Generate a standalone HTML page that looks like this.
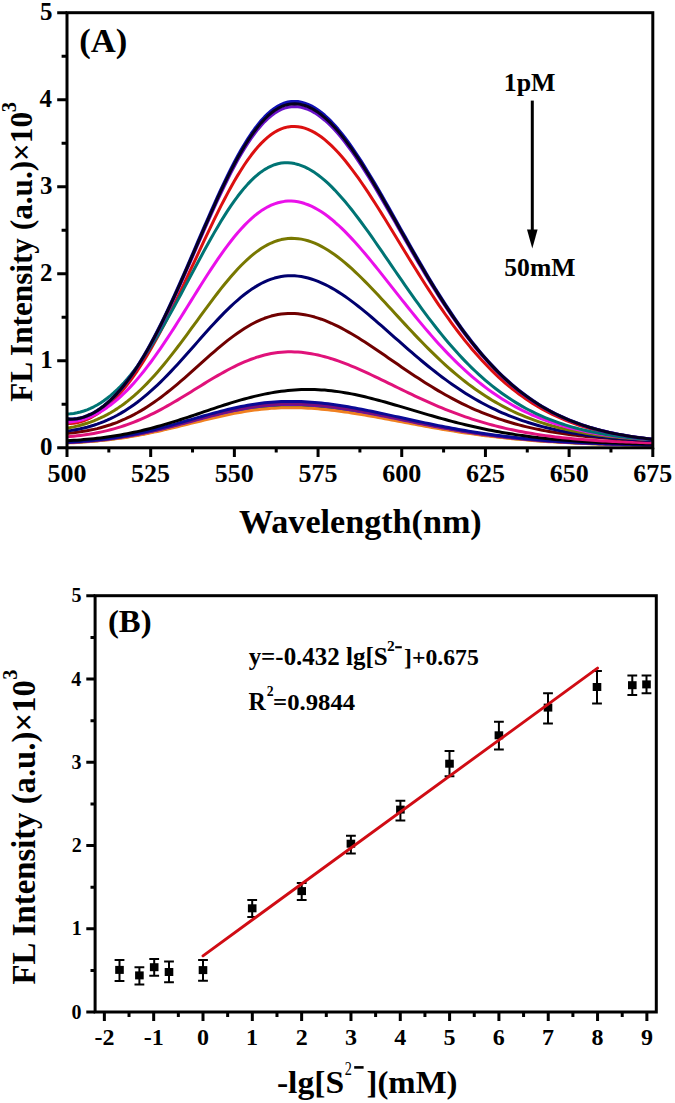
<!DOCTYPE html>
<html><head><meta charset="utf-8"><style>
html,body{margin:0;padding:0;background:#fff;}
body{width:675px;height:1103px;overflow:hidden;}
svg{display:block;font-family:"Liberation Serif",serif;}
</style></head><body>
<svg width="675" height="1103" viewBox="0 0 675 1103">
<rect width="675" height="1103" fill="#fff"/>
<clipPath id="ca"><rect x="67" y="12.7" width="585.8" height="435.1"/></clipPath>
<g clip-path="url(#ca)" fill="none" stroke-width="3" stroke-linejoin="round" stroke-linecap="round">
<polyline stroke="#10800a" points="67.00,442.78 70.35,442.62 73.69,442.45 77.04,442.25 80.39,442.04 83.74,441.81 87.08,441.56 90.43,441.29 93.78,440.99 97.13,440.68 100.47,440.34 103.82,439.98 107.17,439.59 110.52,439.18 113.86,438.74 117.21,438.28 120.56,437.80 123.91,437.28 127.25,436.74 130.60,436.18 133.95,435.59 137.30,434.98 140.64,434.34 143.99,433.67 147.34,432.99 150.69,432.28 154.03,431.54 157.38,430.79 160.73,430.02 164.08,429.23 167.42,428.43 170.77,427.61 174.12,426.78 177.47,425.94 180.81,425.09 184.16,424.23 187.51,423.36 190.85,422.50 194.20,421.63 197.55,420.77 200.90,419.91 204.24,419.06 207.59,418.21 210.94,417.38 214.29,416.57 217.63,415.76 220.98,414.98 224.33,414.22 227.68,413.48 231.02,412.77 234.37,412.09 237.72,411.43 241.07,410.81 244.41,410.22 247.76,409.67 251.11,409.15 254.46,408.67 257.80,408.23 261.15,407.83 264.50,407.47 267.85,407.15 271.19,406.88 274.54,406.65 277.89,406.46 281.24,406.32 284.58,406.22 287.93,406.17 291.28,406.16 294.63,406.18 297.97,406.25 301.32,406.35 304.67,406.49 308.01,406.66 311.36,406.86 314.71,407.10 318.06,407.37 321.40,407.67 324.75,408.00 328.10,408.36 331.45,408.75 334.79,409.16 338.14,409.60 341.49,410.06 344.84,410.55 348.18,411.05 351.53,411.58 354.88,412.12 358.23,412.68 361.57,413.26 364.92,413.85 368.27,414.45 371.62,415.06 374.96,415.69 378.31,416.32 381.66,416.96 385.01,417.61 388.35,418.26 391.70,418.91 395.05,419.57 398.40,420.23 401.74,420.89 405.09,421.55 408.44,422.20 411.79,422.86 415.13,423.51 418.48,424.15 421.83,424.79 425.17,425.42 428.52,426.05 431.87,426.67 435.22,427.28 438.56,427.89 441.91,428.48 445.26,429.06 448.61,429.64 451.95,430.20 455.30,430.75 458.65,431.29 462.00,431.82 465.34,432.34 468.69,432.85 472.04,433.34 475.39,433.82 478.73,434.29 482.08,434.75 485.43,435.19 488.78,435.63 492.12,436.05 495.47,436.45 498.82,436.85 502.17,437.23 505.51,437.60 508.86,437.96 512.21,438.31 515.56,438.64 518.90,438.97 522.25,439.28 525.60,439.58 528.95,439.87 532.29,440.15 535.64,440.42 538.99,440.68 542.33,440.93 545.68,441.17 549.03,441.40 552.38,441.62 555.72,441.83 559.07,442.04 562.42,442.23 565.77,442.42 569.11,442.60 572.46,442.77 575.81,442.93 579.16,443.09 582.50,443.24 585.85,443.38 589.20,443.51 592.55,443.64 595.89,443.77 599.24,443.89 602.59,444.00 605.94,444.11 609.28,444.21 612.63,444.31 615.98,444.40 619.33,444.49 622.67,444.57 626.02,444.65 629.37,444.72 632.72,444.80 636.06,444.86 639.41,444.93 642.76,444.99 646.11,445.05 649.45,445.10 652.80,445.16"/>
<polyline stroke="#f08020" points="67.00,442.97 70.35,442.81 73.69,442.64 77.04,442.45 80.39,442.25 83.74,442.03 87.08,441.79 90.43,441.52 93.78,441.24 97.13,440.94 100.47,440.61 103.82,440.26 107.17,439.89 110.52,439.49 113.86,439.07 117.21,438.63 120.56,438.16 123.91,437.67 127.25,437.15 130.60,436.60 133.95,436.04 137.30,435.44 140.64,434.83 143.99,434.19 147.34,433.53 150.69,432.84 154.03,432.14 157.38,431.41 160.73,430.67 164.08,429.91 167.42,429.14 170.77,428.35 174.12,427.55 177.47,426.73 180.81,425.91 184.16,425.09 187.51,424.26 190.85,423.42 194.20,422.59 197.55,421.75 200.90,420.93 204.24,420.11 207.59,419.29 210.94,418.49 214.29,417.70 217.63,416.93 220.98,416.18 224.33,415.45 227.68,414.74 231.02,414.05 234.37,413.39 237.72,412.76 241.07,412.16 244.41,411.59 247.76,411.06 251.11,410.56 254.46,410.10 257.80,409.67 261.15,409.29 264.50,408.94 267.85,408.64 271.19,408.37 274.54,408.15 277.89,407.97 281.24,407.83 284.58,407.74 287.93,407.68 291.28,407.67 294.63,407.70 297.97,407.76 301.32,407.86 304.67,407.99 308.01,408.16 311.36,408.36 314.71,408.59 318.06,408.85 321.40,409.14 324.75,409.45 328.10,409.80 331.45,410.17 334.79,410.57 338.14,410.99 341.49,411.44 344.84,411.91 348.18,412.39 351.53,412.90 354.88,413.42 358.23,413.96 361.57,414.52 364.92,415.09 368.27,415.67 371.62,416.26 374.96,416.86 378.31,417.47 381.66,418.09 385.01,418.71 388.35,419.34 391.70,419.97 395.05,420.60 398.40,421.23 401.74,421.87 405.09,422.50 408.44,423.14 411.79,423.76 415.13,424.39 418.48,425.01 421.83,425.63 425.17,426.24 428.52,426.85 431.87,427.44 435.22,428.03 438.56,428.61 441.91,429.18 445.26,429.75 448.61,430.30 451.95,430.84 455.30,431.38 458.65,431.90 462.00,432.41 465.34,432.91 468.69,433.39 472.04,433.87 475.39,434.33 478.73,434.79 482.08,435.23 485.43,435.65 488.78,436.07 492.12,436.48 495.47,436.87 498.82,437.25 502.17,437.62 505.51,437.97 508.86,438.32 512.21,438.65 515.56,438.98 518.90,439.29 522.25,439.59 525.60,439.88 528.95,440.16 532.29,440.43 535.64,440.69 538.99,440.94 542.33,441.18 545.68,441.41 549.03,441.63 552.38,441.85 555.72,442.05 559.07,442.25 562.42,442.43 565.77,442.61 569.11,442.79 572.46,442.95 575.81,443.11 579.16,443.26 582.50,443.40 585.85,443.54 589.20,443.67 592.55,443.80 595.89,443.92 599.24,444.03 602.59,444.14 605.94,444.24 609.28,444.34 612.63,444.43 615.98,444.52 619.33,444.61 622.67,444.69 626.02,444.76 629.37,444.84 632.72,444.91 636.06,444.97 639.41,445.03 642.76,445.09 646.11,445.15 649.45,445.20 652.80,445.25"/>
<polyline stroke="#6a10b0" points="67.00,442.57 70.35,442.41 73.69,442.22 77.04,442.02 80.39,441.80 83.74,441.56 87.08,441.30 90.43,441.01 93.78,440.71 97.13,440.38 100.47,440.03 103.82,439.65 107.17,439.25 110.52,438.82 113.86,438.37 117.21,437.89 120.56,437.38 123.91,436.84 127.25,436.28 130.60,435.70 133.95,435.08 137.30,434.44 140.64,433.78 143.99,433.08 147.34,432.37 150.69,431.63 154.03,430.87 157.38,430.08 160.73,429.28 164.08,428.46 167.42,427.62 170.77,426.77 174.12,425.90 177.47,425.03 180.81,424.14 184.16,423.25 187.51,422.35 190.85,421.44 194.20,420.54 197.55,419.64 200.90,418.75 204.24,417.86 207.59,416.98 210.94,416.12 214.29,415.26 217.63,414.43 220.98,413.62 224.33,412.82 227.68,412.05 231.02,411.31 234.37,410.60 237.72,409.92 241.07,409.27 244.41,408.66 247.76,408.08 251.11,407.54 254.46,407.04 257.80,406.58 261.15,406.16 264.50,405.79 267.85,405.46 271.19,405.17 274.54,404.93 277.89,404.74 281.24,404.59 284.58,404.49 287.93,404.43 291.28,404.42 294.63,404.45 297.97,404.52 301.32,404.62 304.67,404.77 308.01,404.94 311.36,405.16 314.71,405.41 318.06,405.69 321.40,406.00 324.75,406.34 328.10,406.72 331.45,407.12 334.79,407.55 338.14,408.01 341.49,408.49 344.84,409.00 348.18,409.52 351.53,410.07 354.88,410.64 358.23,411.22 361.57,411.82 364.92,412.43 368.27,413.06 371.62,413.70 374.96,414.35 378.31,415.01 381.66,415.68 385.01,416.35 388.35,417.03 391.70,417.71 395.05,418.39 398.40,419.08 401.74,419.77 405.09,420.45 408.44,421.14 411.79,421.82 415.13,422.49 418.48,423.17 421.83,423.83 425.17,424.49 428.52,425.15 431.87,425.79 435.22,426.43 438.56,427.06 441.91,427.68 445.26,428.28 448.61,428.88 451.95,429.47 455.30,430.04 458.65,430.61 462.00,431.16 465.34,431.70 468.69,432.23 472.04,432.74 475.39,433.24 478.73,433.73 482.08,434.21 485.43,434.67 488.78,435.12 492.12,435.56 495.47,435.98 498.82,436.39 502.17,436.79 505.51,437.18 508.86,437.55 512.21,437.91 515.56,438.26 518.90,438.60 522.25,438.93 525.60,439.24 528.95,439.54 532.29,439.83 535.64,440.11 538.99,440.38 542.33,440.64 545.68,440.89 549.03,441.13 552.38,441.36 555.72,441.58 559.07,441.80 562.42,442.00 565.77,442.19 569.11,442.38 572.46,442.56 575.81,442.73 579.16,442.89 582.50,443.05 585.85,443.19 589.20,443.34 592.55,443.47 595.89,443.60 599.24,443.72 602.59,443.84 605.94,443.95 609.28,444.06 612.63,444.16 615.98,444.26 619.33,444.35 622.67,444.44 626.02,444.52 629.37,444.60 632.72,444.67 636.06,444.74 639.41,444.81 642.76,444.87 646.11,444.93 649.45,444.99 652.80,445.05"/>
<polyline stroke="#7a107a" points="67.00,442.47 70.35,442.30 73.69,442.11 77.04,441.91 80.39,441.68 83.74,441.43 87.08,441.17 90.43,440.88 93.78,440.57 97.13,440.23 100.47,439.87 103.82,439.49 107.17,439.08 110.52,438.64 113.86,438.18 117.21,437.69 120.56,437.17 123.91,436.63 127.25,436.05 130.60,435.45 133.95,434.83 137.30,434.17 140.64,433.49 143.99,432.79 147.34,432.06 150.69,431.31 154.03,430.53 157.38,429.73 160.73,428.91 164.08,428.07 167.42,427.22 170.77,426.35 174.12,425.47 177.47,424.57 180.81,423.67 184.16,422.75 187.51,421.84 190.85,420.92 194.20,420.00 197.55,419.08 200.90,418.17 204.24,417.26 207.59,416.37 210.94,415.48 214.29,414.61 217.63,413.76 220.98,412.93 224.33,412.12 227.68,411.34 231.02,410.58 234.37,409.86 237.72,409.16 241.07,408.50 244.41,407.87 247.76,407.28 251.11,406.73 254.46,406.22 257.80,405.76 261.15,405.33 264.50,404.95 267.85,404.61 271.19,404.32 274.54,404.08 277.89,403.88 281.24,403.73 284.58,403.62 287.93,403.56 291.28,403.55 294.63,403.58 297.97,403.65 301.32,403.76 304.67,403.90 308.01,404.09 311.36,404.30 314.71,404.56 318.06,404.84 321.40,405.16 324.75,405.52 328.10,405.90 331.45,406.31 334.79,406.75 338.14,407.21 341.49,407.70 344.84,408.22 348.18,408.76 351.53,409.31 354.88,409.89 358.23,410.49 361.57,411.10 364.92,411.73 368.27,412.37 371.62,413.02 374.96,413.68 378.31,414.35 381.66,415.03 385.01,415.72 388.35,416.41 391.70,417.11 395.05,417.81 398.40,418.51 401.74,419.21 405.09,419.90 408.44,420.60 411.79,421.30 415.13,421.99 418.48,422.67 421.83,423.35 425.17,424.03 428.52,424.69 431.87,425.35 435.22,426.00 438.56,426.64 441.91,427.27 445.26,427.89 448.61,428.50 451.95,429.10 455.30,429.69 458.65,430.26 462.00,430.83 465.34,431.38 468.69,431.91 472.04,432.44 475.39,432.95 478.73,433.45 482.08,433.93 485.43,434.41 488.78,434.87 492.12,435.31 495.47,435.74 498.82,436.16 502.17,436.57 505.51,436.97 508.86,437.35 512.21,437.72 515.56,438.07 518.90,438.42 522.25,438.75 525.60,439.07 528.95,439.38 532.29,439.67 535.64,439.96 538.99,440.24 542.33,440.50 545.68,440.76 549.03,441.00 552.38,441.23 555.72,441.46 559.07,441.68 562.42,441.88 565.77,442.08 569.11,442.27 572.46,442.45 575.81,442.63 579.16,442.79 582.50,442.95 585.85,443.10 589.20,443.25 592.55,443.38 595.89,443.52 599.24,443.64 602.59,443.76 605.94,443.88 609.28,443.98 612.63,444.09 615.98,444.19 619.33,444.28 622.67,444.37 626.02,444.45 629.37,444.53 632.72,444.61 636.06,444.68 639.41,444.75 642.76,444.82 646.11,444.88 649.45,444.94 652.80,444.99"/>
<polyline stroke="#0a0a96" points="67.00,442.21 70.35,442.03 73.69,441.83 77.04,441.62 80.39,441.38 83.74,441.12 87.08,440.84 90.43,440.54 93.78,440.21 97.13,439.86 100.47,439.48 103.82,439.08 107.17,438.65 110.52,438.19 113.86,437.71 117.21,437.19 120.56,436.65 123.91,436.08 127.25,435.48 130.60,434.85 133.95,434.19 137.30,433.51 140.64,432.79 143.99,432.05 147.34,431.29 150.69,430.50 154.03,429.68 157.38,428.84 160.73,427.99 164.08,427.11 167.42,426.21 170.77,425.30 174.12,424.37 177.47,423.43 180.81,422.48 184.16,421.53 187.51,420.56 190.85,419.60 194.20,418.63 197.55,417.67 200.90,416.71 204.24,415.76 207.59,414.82 210.94,413.90 214.29,412.99 217.63,412.09 220.98,411.22 224.33,410.37 227.68,409.55 231.02,408.76 234.37,408.00 237.72,407.27 241.07,406.57 244.41,405.92 247.76,405.30 251.11,404.72 254.46,404.19 257.80,403.69 261.15,403.25 264.50,402.85 267.85,402.50 271.19,402.19 274.54,401.93 277.89,401.73 281.24,401.57 284.58,401.46 287.93,401.40 291.28,401.38 294.63,401.42 297.97,401.49 301.32,401.60 304.67,401.75 308.01,401.94 311.36,402.17 314.71,402.44 318.06,402.74 321.40,403.07 324.75,403.44 328.10,403.84 331.45,404.28 334.79,404.74 338.14,405.22 341.49,405.74 344.84,406.28 348.18,406.84 351.53,407.43 354.88,408.03 358.23,408.66 361.57,409.30 364.92,409.96 368.27,410.63 371.62,411.31 374.96,412.01 378.31,412.71 381.66,413.43 385.01,414.15 388.35,414.87 391.70,415.60 395.05,416.34 398.40,417.07 401.74,417.80 405.09,418.54 408.44,419.27 411.79,420.00 415.13,420.72 418.48,421.44 421.83,422.15 425.17,422.86 428.52,423.56 431.87,424.25 435.22,424.93 438.56,425.60 441.91,426.27 445.26,426.92 448.61,427.56 451.95,428.18 455.30,428.80 458.65,429.40 462.00,429.99 465.34,430.57 468.69,431.14 472.04,431.69 475.39,432.22 478.73,432.75 482.08,433.25 485.43,433.75 488.78,434.23 492.12,434.70 495.47,435.15 498.82,435.59 502.17,436.02 505.51,436.43 508.86,436.83 512.21,437.22 515.56,437.59 518.90,437.96 522.25,438.30 525.60,438.64 528.95,438.96 532.29,439.28 535.64,439.58 538.99,439.87 542.33,440.14 545.68,440.41 549.03,440.67 552.38,440.91 555.72,441.15 559.07,441.38 562.42,441.59 565.77,441.80 569.11,442.00 572.46,442.19 575.81,442.37 579.16,442.55 582.50,442.71 585.85,442.87 589.20,443.02 592.55,443.17 595.89,443.31 599.24,443.44 602.59,443.56 605.94,443.68 609.28,443.80 612.63,443.91 615.98,444.01 619.33,444.11 622.67,444.20 626.02,444.29 629.37,444.37 632.72,444.45 636.06,444.53 639.41,444.60 642.76,444.67 646.11,444.73 649.45,444.80 652.80,444.85"/>
<polyline stroke="#000000" points="67.00,440.75 70.35,440.56 73.69,440.36 77.04,440.13 80.39,439.89 83.74,439.62 87.08,439.33 90.43,439.01 93.78,438.67 97.13,438.30 100.47,437.91 103.82,437.49 107.17,437.03 110.52,436.55 113.86,436.04 117.21,435.50 120.56,434.93 123.91,434.33 127.25,433.69 130.60,433.03 133.95,432.33 137.30,431.60 140.64,430.84 143.99,430.04 147.34,429.22 150.69,428.37 154.03,427.48 157.38,426.57 160.73,425.63 164.08,424.67 167.42,423.68 170.77,422.67 174.12,421.63 177.47,420.58 180.81,419.51 184.16,418.42 187.51,417.32 190.85,416.21 194.20,415.09 197.55,413.96 200.90,412.83 204.24,411.70 207.59,410.56 210.94,409.44 214.29,408.32 217.63,407.20 220.98,406.11 224.33,405.02 227.68,403.96 231.02,402.91 234.37,401.89 237.72,400.89 241.07,399.92 244.41,398.98 247.76,398.08 251.11,397.21 254.46,396.38 257.80,395.59 261.15,394.84 264.50,394.14 267.85,393.47 271.19,392.86 274.54,392.30 277.89,391.78 281.24,391.32 284.58,390.90 287.93,390.54 291.28,390.23 294.63,389.98 297.97,389.77 301.32,389.62 304.67,389.53 308.01,389.49 311.36,389.50 314.71,389.57 318.06,389.69 321.40,389.88 324.75,390.12 328.10,390.42 331.45,390.77 334.79,391.17 338.14,391.63 341.49,392.13 344.84,392.68 348.18,393.27 351.53,393.90 354.88,394.58 358.23,395.29 361.57,396.04 364.92,396.82 368.27,397.63 371.62,398.47 374.96,399.34 378.31,400.23 381.66,401.14 385.01,402.07 388.35,403.01 391.70,403.97 395.05,404.94 398.40,405.92 401.74,406.91 405.09,407.90 408.44,408.90 411.79,409.90 415.13,410.89 418.48,411.89 421.83,412.88 425.17,413.86 428.52,414.84 431.87,415.80 435.22,416.76 438.56,417.71 441.91,418.64 445.26,419.56 448.61,420.46 451.95,421.35 455.30,422.22 458.65,423.08 462.00,423.92 465.34,424.73 468.69,425.53 472.04,426.31 475.39,427.07 478.73,427.82 482.08,428.54 485.43,429.24 488.78,429.92 492.12,430.57 495.47,431.21 498.82,431.83 502.17,432.43 505.51,433.01 508.86,433.56 512.21,434.10 515.56,434.62 518.90,435.12 522.25,435.60 525.60,436.06 528.95,436.51 532.29,436.93 535.64,437.34 538.99,437.73 542.33,438.11 545.68,438.47 549.03,438.81 552.38,439.14 555.72,439.46 559.07,439.76 562.42,440.04 565.77,440.31 569.11,440.57 572.46,440.82 575.81,441.06 579.16,441.28 582.50,441.49 585.85,441.70 589.20,441.89 592.55,442.07 595.89,442.24 599.24,442.41 602.59,442.56 605.94,442.71 609.28,442.85 612.63,442.98 615.98,443.11 619.33,443.22 622.67,443.33 626.02,443.44 629.37,443.54 632.72,443.63 636.06,443.72 639.41,443.80 642.76,443.88 646.11,443.96 649.45,444.03 652.80,444.09"/>
<polyline stroke="#e0127a" points="67.00,436.77 70.35,436.49 73.69,436.18 77.04,435.82 80.39,435.43 83.74,435.00 87.08,434.52 90.43,433.99 93.78,433.42 97.13,432.80 100.47,432.12 103.82,431.39 107.17,430.60 110.52,429.76 113.86,428.85 117.21,427.89 120.56,426.86 123.91,425.76 127.25,424.61 130.60,423.39 133.95,422.10 137.30,420.75 140.64,419.34 143.99,417.86 147.34,416.32 150.69,414.73 154.03,413.07 157.38,411.36 160.73,409.59 164.08,407.78 167.42,405.91 170.77,404.01 174.12,402.07 177.47,400.09 180.81,398.08 184.16,396.05 187.51,393.99 190.85,391.93 194.20,389.85 197.55,387.77 200.90,385.70 204.24,383.64 207.59,381.59 210.94,379.57 214.29,377.57 217.63,375.61 220.98,373.69 224.33,371.82 227.68,370.00 231.02,368.24 234.37,366.55 237.72,364.93 241.07,363.38 244.41,361.92 247.76,360.54 251.11,359.25 254.46,358.05 257.80,356.95 261.15,355.95 264.50,355.06 267.85,354.27 271.19,353.59 274.54,353.02 277.89,352.55 281.24,352.20 284.58,351.96 287.93,351.83 291.28,351.81 294.63,351.90 297.97,352.08 301.32,352.35 304.67,352.72 308.01,353.17 311.36,353.72 314.71,354.35 318.06,355.07 321.40,355.86 324.75,356.73 328.10,357.68 331.45,358.69 334.79,359.78 338.14,360.92 341.49,362.13 344.84,363.39 348.18,364.70 351.53,366.06 354.88,367.46 358.23,368.91 361.57,370.39 364.92,371.90 368.27,373.44 371.62,375.01 374.96,376.59 378.31,378.19 381.66,379.81 385.01,381.44 388.35,383.07 391.70,384.71 395.05,386.34 398.40,387.98 401.74,389.61 405.09,391.23 408.44,392.84 411.79,394.44 415.13,396.02 418.48,397.59 421.83,399.13 425.17,400.66 428.52,402.16 431.87,403.63 435.22,405.08 438.56,406.51 441.91,407.90 445.26,409.27 448.61,410.60 451.95,411.91 455.30,413.18 458.65,414.42 462.00,415.63 465.34,416.81 468.69,417.95 472.04,419.06 475.39,420.13 478.73,421.17 482.08,422.18 485.43,423.16 488.78,424.10 492.12,425.01 495.47,425.89 498.82,426.74 502.17,427.55 505.51,428.34 508.86,429.10 512.21,429.82 515.56,430.52 518.90,431.19 522.25,431.83 525.60,432.45 528.95,433.04 532.29,433.60 535.64,434.14 538.99,434.66 542.33,435.15 545.68,435.62 549.03,436.07 552.38,436.50 555.72,436.91 559.07,437.29 562.42,437.66 565.77,438.02 569.11,438.35 572.46,438.67 575.81,438.97 579.16,439.26 582.50,439.53 585.85,439.79 589.20,440.03 592.55,440.26 595.89,440.48 599.24,440.69 602.59,440.89 605.94,441.07 609.28,441.25 612.63,441.42 615.98,441.57 619.33,441.72 622.67,441.86 626.02,442.00 629.37,442.12 632.72,442.24 636.06,442.35 639.41,442.45 642.76,442.55 646.11,442.65 649.45,442.73 652.80,442.82"/>
<polyline stroke="#700000" points="67.00,433.46 70.35,433.13 73.69,432.75 77.04,432.33 80.39,431.86 83.74,431.33 87.08,430.74 90.43,430.09 93.78,429.38 97.13,428.60 100.47,427.74 103.82,426.81 107.17,425.80 110.52,424.71 113.86,423.54 117.21,422.28 120.56,420.93 123.91,419.49 127.25,417.95 130.60,416.32 133.95,414.60 137.30,412.78 140.64,410.86 143.99,408.86 147.34,406.75 150.69,404.56 154.03,402.27 157.38,399.90 160.73,397.44 164.08,394.91 167.42,392.30 170.77,389.61 174.12,386.87 177.47,384.06 180.81,381.21 184.16,378.30 187.51,375.37 190.85,372.40 194.20,369.41 197.55,366.41 200.90,363.41 204.24,360.41 207.59,357.44 210.94,354.48 214.29,351.56 217.63,348.69 220.98,345.88 224.33,343.12 227.68,340.45 231.02,337.85 234.37,335.35 237.72,332.95 241.07,330.65 244.41,328.48 247.76,326.43 251.11,324.51 254.46,322.73 257.80,321.09 261.15,319.60 264.50,318.27 267.85,317.09 271.19,316.07 274.54,315.22 277.89,314.53 281.24,314.00 284.58,313.64 287.93,313.45 291.28,313.42 294.63,313.54 297.97,313.80 301.32,314.19 304.67,314.72 308.01,315.37 311.36,316.15 314.71,317.06 318.06,318.08 321.40,319.21 324.75,320.46 328.10,321.81 331.45,323.26 334.79,324.81 338.14,326.44 341.49,328.16 344.84,329.96 348.18,331.83 351.53,333.77 354.88,335.77 358.23,337.82 361.57,339.93 364.92,342.08 368.27,344.26 371.62,346.48 374.96,348.73 378.31,351.01 381.66,353.30 385.01,355.60 388.35,357.91 391.70,360.22 395.05,362.54 398.40,364.84 401.74,367.14 405.09,369.43 408.44,371.70 411.79,373.94 415.13,376.17 418.48,378.36 421.83,380.53 425.17,382.67 428.52,384.77 431.87,386.84 435.22,388.87 438.56,390.85 441.91,392.80 445.26,394.70 448.61,396.56 451.95,398.38 455.30,400.14 458.65,401.87 462.00,403.54 465.34,405.17 468.69,406.75 472.04,408.28 475.39,409.76 478.73,411.20 482.08,412.59 485.43,413.93 488.78,415.22 492.12,416.47 495.47,417.68 498.82,418.84 502.17,419.95 505.51,421.02 508.86,422.05 512.21,423.04 515.56,423.99 518.90,424.90 522.25,425.77 525.60,426.60 528.95,427.40 532.29,428.16 535.64,428.89 538.99,429.58 542.33,430.25 545.68,430.88 549.03,431.48 552.38,432.05 555.72,432.60 559.07,433.11 562.42,433.61 565.77,434.07 569.11,434.52 572.46,434.94 575.81,435.34 579.16,435.72 582.50,436.08 585.85,436.42 589.20,436.74 592.55,437.04 595.89,437.33 599.24,437.60 602.59,437.86 605.94,438.10 609.28,438.33 612.63,438.55 615.98,438.75 619.33,438.94 622.67,439.13 626.02,439.30 629.37,439.46 632.72,439.61 636.06,439.75 639.41,439.89 642.76,440.01 646.11,440.13 649.45,440.24 652.80,440.35"/>
<polyline stroke="#00006e" points="67.00,431.08 70.35,430.62 73.69,430.09 77.04,429.49 80.39,428.82 83.74,428.06 87.08,427.22 90.43,426.29 93.78,425.27 97.13,424.16 100.47,422.94 103.82,421.63 107.17,420.20 110.52,418.67 113.86,417.02 117.21,415.26 120.56,413.39 123.91,411.40 127.25,409.28 130.60,407.05 133.95,404.70 137.30,402.24 140.64,399.65 143.99,396.95 147.34,394.13 150.69,391.21 154.03,388.18 157.38,385.04 160.73,381.81 164.08,378.49 167.42,375.08 170.77,371.59 174.12,368.03 177.47,364.41 180.81,360.73 184.16,357.01 187.51,353.26 190.85,349.48 194.20,345.68 197.55,341.88 200.90,338.08 204.24,334.31 207.59,330.56 210.94,326.86 214.29,323.20 217.63,319.61 220.98,316.10 224.33,312.67 227.68,309.34 231.02,306.12 234.37,303.02 237.72,300.04 241.07,297.20 244.41,294.51 247.76,291.98 251.11,289.60 254.46,287.40 257.80,285.37 261.15,283.53 264.50,281.87 267.85,280.41 271.19,279.14 274.54,278.07 277.89,277.19 281.24,276.52 284.58,276.05 287.93,275.78 291.28,275.71 294.63,275.83 297.97,276.13 301.32,276.59 304.67,277.23 308.01,278.03 311.36,278.99 314.71,280.10 318.06,281.37 321.40,282.79 324.75,284.34 328.10,286.03 331.45,287.85 334.79,289.79 338.14,291.85 341.49,294.01 344.84,296.28 348.18,298.64 351.53,301.09 354.88,303.62 358.23,306.23 361.57,308.90 364.92,311.63 368.27,314.41 371.62,317.24 374.96,320.11 378.31,323.01 381.66,325.93 385.01,328.88 388.35,331.84 391.70,334.80 395.05,337.77 398.40,340.73 401.74,343.69 405.09,346.63 408.44,349.55 411.79,352.46 415.13,355.33 418.48,358.17 421.83,360.98 425.17,363.75 428.52,366.48 431.87,369.17 435.22,371.80 438.56,374.39 441.91,376.93 445.26,379.42 448.61,381.85 451.95,384.23 455.30,386.55 458.65,388.81 462.00,391.01 465.34,393.15 468.69,395.23 472.04,397.25 475.39,399.21 478.73,401.11 482.08,402.95 485.43,404.73 488.78,406.46 492.12,408.12 495.47,409.72 498.82,411.27 502.17,412.76 505.51,414.19 508.86,415.57 512.21,416.90 515.56,418.17 518.90,419.40 522.25,420.57 525.60,421.69 528.95,422.77 532.29,423.80 535.64,424.78 538.99,425.72 542.33,426.62 545.68,427.48 549.03,428.30 552.38,429.08 555.72,429.82 559.07,430.53 562.42,431.20 565.77,431.84 569.11,432.45 572.46,433.03 575.81,433.58 579.16,434.10 582.50,434.59 585.85,435.06 589.20,435.50 592.55,435.92 595.89,436.32 599.24,436.69 602.59,437.05 605.94,437.38 609.28,437.70 612.63,438.00 615.98,438.28 619.33,438.55 622.67,438.80 626.02,439.03 629.37,439.26 632.72,439.47 636.06,439.66 639.41,439.85 642.76,440.02 646.11,440.18 649.45,440.34 652.80,440.48"/>
<polyline stroke="#787800" points="67.00,428.16 70.35,427.56 73.69,426.87 77.04,426.10 80.39,425.24 83.74,424.29 87.08,423.24 90.43,422.09 93.78,420.83 97.13,419.46 100.47,417.97 103.82,416.36 107.17,414.62 110.52,412.76 113.86,410.76 117.21,408.62 120.56,406.35 123.91,403.94 127.25,401.39 130.60,398.69 133.95,395.86 137.30,392.88 140.64,389.76 143.99,386.50 147.34,383.10 150.69,379.58 154.03,375.92 157.38,372.14 160.73,368.25 164.08,364.24 167.42,360.13 170.77,355.92 174.12,351.62 177.47,347.25 180.81,342.81 184.16,338.32 187.51,333.78 190.85,329.20 194.20,324.61 197.55,320.01 200.90,315.41 204.24,310.83 207.59,306.28 210.94,301.78 214.29,297.34 217.63,292.97 220.98,288.69 224.33,284.50 227.68,280.44 231.02,276.49 234.37,272.69 237.72,269.04 241.07,265.55 244.41,262.23 247.76,259.10 251.11,256.16 254.46,253.42 257.80,250.90 261.15,248.59 264.50,246.50 267.85,244.64 271.19,243.02 274.54,241.63 277.89,240.48 281.24,239.58 284.58,238.92 287.93,238.50 291.28,238.32 294.63,238.38 297.97,238.65 301.32,239.14 304.67,239.85 308.01,240.75 311.36,241.86 314.71,243.17 318.06,244.66 321.40,246.34 324.75,248.20 328.10,250.22 331.45,252.41 334.79,254.75 338.14,257.24 341.49,259.87 344.84,262.62 348.18,265.49 351.53,268.48 354.88,271.57 358.23,274.75 361.57,278.01 364.92,281.36 368.27,284.77 371.62,288.23 374.96,291.75 378.31,295.31 381.66,298.91 385.01,302.53 388.35,306.17 391.70,309.82 395.05,313.47 398.40,317.12 401.74,320.76 405.09,324.39 408.44,327.99 411.79,331.57 415.13,335.11 418.48,338.62 421.83,342.08 425.17,345.50 428.52,348.86 431.87,352.18 435.22,355.43 438.56,358.63 441.91,361.76 445.26,364.82 448.61,367.82 451.95,370.75 455.30,373.61 458.65,376.40 462.00,379.11 465.34,381.75 468.69,384.32 472.04,386.81 475.39,389.23 478.73,391.57 482.08,393.83 485.43,396.03 488.78,398.14 492.12,400.19 495.47,402.16 498.82,404.07 502.17,405.90 505.51,407.66 508.86,409.36 512.21,410.98 515.56,412.55 518.90,414.05 522.25,415.49 525.60,416.86 528.95,418.18 532.29,419.45 535.64,420.65 538.99,421.81 542.33,422.91 545.68,423.96 549.03,424.96 552.38,425.91 555.72,426.82 559.07,427.68 562.42,428.50 565.77,429.29 569.11,430.03 572.46,430.73 575.81,431.40 579.16,432.04 582.50,432.64 585.85,433.21 589.20,433.75 592.55,434.26 595.89,434.74 599.24,435.19 602.59,435.63 605.94,436.03 609.28,436.42 612.63,436.78 615.98,437.12 619.33,437.44 622.67,437.75 626.02,438.03 629.37,438.30 632.72,438.56 636.06,438.80 639.41,439.02 642.76,439.23 646.11,439.43 649.45,439.62 652.80,439.79"/>
<polyline stroke="#dc1010" points="67.00,423.39 70.35,423.46 73.69,423.22 77.04,422.69 80.39,421.88 83.74,420.80 87.08,419.46 90.43,417.87 93.78,416.04 97.13,413.96 100.47,411.65 103.82,409.09 107.17,406.31 110.52,403.28 113.86,400.03 117.21,396.54 120.56,392.82 123.91,388.86 127.25,384.68 130.60,380.27 133.95,375.63 137.30,370.78 140.64,365.70 143.99,360.41 147.34,354.92 150.69,349.23 154.03,343.34 157.38,337.27 160.73,331.03 164.08,324.63 167.42,318.07 170.77,311.38 174.12,304.57 177.47,297.65 180.81,290.64 184.16,283.55 187.51,276.40 190.85,269.22 194.20,262.01 197.55,254.80 200.90,247.61 204.24,240.45 207.59,233.36 210.94,226.34 214.29,219.42 217.63,212.61 220.98,205.95 224.33,199.44 227.68,193.12 231.02,186.98 234.37,181.07 237.72,175.38 241.07,169.95 244.41,164.77 247.76,159.88 251.11,155.28 254.46,150.99 257.80,147.02 261.15,143.38 264.50,140.07 267.85,137.11 271.19,134.50 274.54,132.25 277.89,130.36 281.24,128.84 284.58,127.68 287.93,126.89 291.28,126.46 294.63,126.40 297.97,126.66 301.32,127.24 304.67,128.14 308.01,129.34 311.36,130.83 314.71,132.62 318.06,134.70 321.40,137.05 324.75,139.66 328.10,142.53 331.45,145.64 334.79,148.99 338.14,152.55 341.49,156.33 344.84,160.31 348.18,164.48 351.53,168.81 354.88,173.32 358.23,177.96 361.57,182.75 364.92,187.66 368.27,192.68 371.62,197.81 374.96,203.01 378.31,208.30 381.66,213.65 385.01,219.05 388.35,224.49 391.70,229.96 395.05,235.45 398.40,240.95 401.74,246.45 405.09,251.94 408.44,257.41 411.79,262.86 415.13,268.27 418.48,273.63 421.83,278.95 425.17,284.21 428.52,289.41 431.87,294.54 435.22,299.59 438.56,304.57 441.91,309.46 445.26,314.26 448.61,318.98 451.95,323.59 455.30,328.11 458.65,332.53 462.00,336.85 465.34,341.06 468.69,345.17 472.04,349.17 475.39,353.06 478.73,356.85 482.08,360.53 485.43,364.09 488.78,367.55 492.12,370.91 495.47,374.15 498.82,377.29 502.17,380.32 505.51,383.25 508.86,386.08 512.21,388.81 515.56,391.43 518.90,393.96 522.25,396.40 525.60,398.74 528.95,400.99 532.29,403.15 535.64,405.22 538.99,407.21 542.33,409.11 545.68,410.94 549.03,412.68 552.38,414.35 555.72,415.95 559.07,417.47 562.42,418.93 565.77,420.32 569.11,421.65 572.46,422.91 575.81,424.11 579.16,425.26 582.50,426.35 585.85,427.39 589.20,428.37 592.55,429.31 595.89,430.20 599.24,431.05 602.59,431.85 605.94,432.61 609.28,433.33 612.63,434.01 615.98,434.66 619.33,435.27 622.67,435.85 626.02,436.39 629.37,436.91 632.72,437.40 636.06,437.86 639.41,438.29 642.76,438.71 646.11,439.09 649.45,439.46 652.80,439.80"/>
<polyline stroke="#ea10ea" points="67.00,422.21 70.35,422.00 73.69,421.61 77.04,421.02 80.39,420.24 83.74,419.28 87.08,418.13 90.43,416.80 93.78,415.28 97.13,413.58 100.47,411.70 103.82,409.64 107.17,407.39 110.52,404.96 113.86,402.35 117.21,399.56 120.56,396.59 123.91,393.45 127.25,390.12 130.60,386.63 133.95,382.96 137.30,379.13 140.64,375.14 143.99,370.99 147.34,366.69 150.69,362.24 154.03,357.66 157.38,352.96 160.73,348.13 164.08,343.19 167.42,338.16 170.77,333.04 174.12,327.84 177.47,322.57 180.81,317.25 184.16,311.90 187.51,306.52 190.85,301.13 194.20,295.74 197.55,290.37 200.90,285.04 204.24,279.75 207.59,274.53 210.94,269.38 214.29,264.33 217.63,259.39 220.98,254.57 224.33,249.88 227.68,245.35 231.02,240.98 234.37,236.78 237.72,232.77 241.07,228.97 244.41,225.37 247.76,221.99 251.11,218.85 254.46,215.94 257.80,213.27 261.15,210.86 264.50,208.70 267.85,206.81 271.19,205.18 274.54,203.83 277.89,202.74 281.24,201.92 284.58,201.37 287.93,201.10 291.28,201.09 294.63,201.33 297.97,201.82 301.32,202.56 304.67,203.54 308.01,204.75 311.36,206.19 314.71,207.85 318.06,209.72 321.40,211.80 324.75,214.08 328.10,216.55 331.45,219.20 334.79,222.02 338.14,225.01 341.49,228.14 344.84,231.42 348.18,234.84 351.53,238.37 354.88,242.02 358.23,245.78 361.57,249.62 364.92,253.55 368.27,257.55 371.62,261.62 374.96,265.74 378.31,269.90 381.66,274.10 385.01,278.33 388.35,282.57 391.70,286.83 395.05,291.08 398.40,295.34 401.74,299.57 405.09,303.79 408.44,307.99 411.79,312.15 415.13,316.27 418.48,320.35 421.83,324.38 425.17,328.35 428.52,332.27 431.87,336.13 435.22,339.91 438.56,343.64 441.91,347.28 445.26,350.86 448.61,354.35 451.95,357.77 455.30,361.11 458.65,364.36 462.00,367.53 465.34,370.62 468.69,373.62 472.04,376.53 475.39,379.36 478.73,382.11 482.08,384.76 485.43,387.34 488.78,389.83 492.12,392.23 495.47,394.55 498.82,396.79 502.17,398.96 505.51,401.04 508.86,403.04 512.21,404.97 515.56,406.82 518.90,408.60 522.25,410.30 525.60,411.94 528.95,413.51 532.29,415.01 535.64,416.45 538.99,417.82 542.33,419.14 545.68,420.40 549.03,421.59 552.38,422.74 555.72,423.83 559.07,424.87 562.42,425.86 565.77,426.80 569.11,427.69 572.46,428.55 575.81,429.36 579.16,430.12 582.50,430.85 585.85,431.55 589.20,432.20 592.55,432.82 595.89,433.41 599.24,433.97 602.59,434.50 605.94,435.00 609.28,435.47 612.63,435.91 615.98,436.33 619.33,436.73 622.67,437.10 626.02,437.46 629.37,437.79 632.72,438.10 636.06,438.40 639.41,438.68 642.76,438.94 646.11,439.19 649.45,439.42 652.80,439.63"/>
<polyline stroke="#007474" points="67.00,414.05 70.35,413.83 73.69,413.42 77.04,412.81 80.39,412.01 83.74,411.01 87.08,409.81 90.43,408.40 93.78,406.79 97.13,404.97 100.47,402.93 103.82,400.69 107.17,398.22 110.52,395.55 113.86,392.65 117.21,389.54 120.56,386.20 123.91,382.66 127.25,378.89 130.60,374.92 133.95,370.74 137.30,366.35 140.64,361.76 143.99,356.98 147.34,352.02 150.69,346.88 154.03,341.57 157.38,336.10 160.73,330.48 164.08,324.73 167.42,318.86 170.77,312.87 174.12,306.79 177.47,300.64 180.81,294.42 184.16,288.15 187.51,281.86 190.85,275.55 194.20,269.25 197.55,262.98 200.90,256.74 204.24,250.57 207.59,244.48 210.94,238.49 214.29,232.62 217.63,226.89 220.98,221.30 224.33,215.89 227.68,210.67 231.02,205.65 234.37,200.85 237.72,196.29 241.07,191.97 244.41,187.91 247.76,184.13 251.11,180.63 254.46,177.42 257.80,174.51 261.15,171.92 264.50,169.63 267.85,167.67 271.19,166.03 274.54,164.72 277.89,163.73 281.24,163.08 284.58,162.75 287.93,162.74 291.28,163.02 294.63,163.58 297.97,164.43 301.32,165.55 304.67,166.93 308.01,168.57 311.36,170.47 314.71,172.61 318.06,174.99 321.40,177.59 324.75,180.41 328.10,183.44 331.45,186.67 334.79,190.08 338.14,193.66 341.49,197.42 344.84,201.32 348.18,205.37 351.53,209.54 354.88,213.84 358.23,218.24 361.57,222.74 364.92,227.33 368.27,231.99 371.62,236.72 374.96,241.49 378.31,246.32 381.66,251.17 385.01,256.05 388.35,260.94 391.70,265.83 395.05,270.73 398.40,275.61 401.74,280.47 405.09,285.30 408.44,290.10 411.79,294.85 415.13,299.56 418.48,304.22 421.83,308.81 425.17,313.34 428.52,317.80 431.87,322.19 435.22,326.50 438.56,330.73 441.91,334.88 445.26,338.94 448.61,342.91 451.95,346.79 455.30,350.57 458.65,354.26 462.00,357.86 465.34,361.36 468.69,364.76 472.04,368.06 475.39,371.27 478.73,374.38 482.08,377.39 485.43,380.31 488.78,383.13 492.12,385.85 495.47,388.48 498.82,391.02 502.17,393.47 505.51,395.83 508.86,398.10 512.21,400.28 515.56,402.38 518.90,404.40 522.25,406.33 525.60,408.19 528.95,409.97 532.29,411.68 535.64,413.31 538.99,414.87 542.33,416.36 545.68,417.79 549.03,419.15 552.38,420.45 555.72,421.69 559.07,422.88 562.42,424.00 565.77,425.08 569.11,426.10 572.46,427.07 575.81,427.99 579.16,428.87 582.50,429.70 585.85,430.49 589.20,431.24 592.55,431.95 595.89,432.62 599.24,433.26 602.59,433.87 605.94,434.44 609.28,434.98 612.63,435.49 615.98,435.97 619.33,436.43 622.67,436.86 626.02,437.27 629.37,437.65 632.72,438.01 636.06,438.35 639.41,438.67 642.76,438.97 646.11,439.26 649.45,439.53 652.80,439.78"/>
<polyline stroke="#1010b4" points="67.00,418.75 70.35,418.97 73.69,418.89 77.04,418.52 80.39,417.86 83.74,416.92 87.08,415.71 90.43,414.23 93.78,412.49 97.13,410.48 100.47,408.22 103.82,405.69 107.17,402.90 110.52,399.85 113.86,396.55 117.21,392.98 120.56,389.16 123.91,385.08 127.25,380.74 130.60,376.15 133.95,371.30 137.30,366.21 140.64,360.88 143.99,355.30 147.34,349.50 150.69,343.47 154.03,337.22 157.38,330.77 160.73,324.12 164.08,317.29 167.42,310.29 170.77,303.13 174.12,295.83 177.47,288.40 180.81,280.86 184.16,273.24 187.51,265.54 190.85,257.79 194.20,250.00 197.55,242.21 200.90,234.43 204.24,226.68 207.59,218.98 210.94,211.36 214.29,203.84 217.63,196.44 220.98,189.18 224.33,182.09 227.68,175.19 231.02,168.49 234.37,162.02 237.72,155.80 241.07,149.84 244.41,144.17 247.76,138.79 251.11,133.73 254.46,129.00 257.80,124.62 261.15,120.58 264.50,116.92 267.85,113.62 271.19,110.71 274.54,108.19 277.89,106.06 281.24,104.33 284.58,103.00 287.93,102.06 291.28,101.52 294.63,101.38 297.97,101.60 301.32,102.17 304.67,103.08 308.01,104.33 311.36,105.90 314.71,107.78 318.06,109.98 321.40,112.48 324.75,115.27 328.10,118.34 331.45,121.68 334.79,125.27 338.14,129.10 341.49,133.17 344.84,137.46 348.18,141.94 351.53,146.63 354.88,151.48 358.23,156.51 361.57,161.68 364.92,166.99 368.27,172.42 371.62,177.96 374.96,183.59 378.31,189.31 381.66,195.10 385.01,200.95 388.35,206.84 391.70,212.77 395.05,218.72 398.40,224.68 401.74,230.64 405.09,236.58 408.44,242.51 411.79,248.41 415.13,254.27 418.48,260.09 421.83,265.85 425.17,271.55 428.52,277.18 431.87,282.73 435.22,288.20 438.56,293.59 441.91,298.89 445.26,304.09 448.61,309.19 451.95,314.19 455.30,319.08 458.65,323.86 462.00,328.53 465.34,333.08 468.69,337.52 472.04,341.85 475.39,346.05 478.73,350.14 482.08,354.11 485.43,357.97 488.78,361.70 492.12,365.32 495.47,368.82 498.82,372.20 502.17,375.47 505.51,378.63 508.86,381.68 512.21,384.62 515.56,387.44 518.90,390.17 522.25,392.79 525.60,395.30 528.95,397.72 532.29,400.04 535.64,402.27 538.99,404.40 542.33,406.45 545.68,408.41 549.03,410.28 552.38,412.07 555.72,413.78 559.07,415.41 562.42,416.97 565.77,418.46 569.11,419.88 572.46,421.23 575.81,422.52 579.16,423.74 582.50,424.90 585.85,426.01 589.20,427.06 592.55,428.06 595.89,429.01 599.24,429.91 602.59,430.76 605.94,431.57 609.28,432.34 612.63,433.06 615.98,433.75 619.33,434.40 622.67,435.01 626.02,435.59 629.37,436.14 632.72,436.66 636.06,437.15 639.41,437.61 642.76,438.04 646.11,438.45 649.45,438.84 652.80,439.20"/>
<polyline stroke="#6a12c8" points="67.00,419.18 70.35,419.40 73.69,419.32 77.04,418.95 80.39,418.30 83.74,417.38 87.08,416.19 90.43,414.73 93.78,413.01 97.13,411.04 100.47,408.81 103.82,406.32 107.17,403.57 110.52,400.57 113.86,397.31 117.21,393.80 120.56,390.03 123.91,386.01 127.25,381.74 130.60,377.21 133.95,372.44 137.30,367.43 140.64,362.17 143.99,356.68 147.34,350.96 150.69,345.02 154.03,338.87 157.38,332.51 160.73,325.96 164.08,319.23 167.42,312.34 170.77,305.28 174.12,298.09 177.47,290.77 180.81,283.35 184.16,275.84 187.51,268.25 190.85,260.62 194.20,252.95 197.55,245.27 200.90,237.61 204.24,229.97 207.59,222.39 210.94,214.88 214.29,207.47 217.63,200.18 220.98,193.04 224.33,186.05 227.68,179.25 231.02,172.65 234.37,166.28 237.72,160.15 241.07,154.28 244.41,148.69 247.76,143.39 251.11,138.41 254.46,133.75 257.80,129.43 261.15,125.46 264.50,121.85 267.85,118.60 271.19,115.74 274.54,113.25 277.89,111.15 281.24,109.45 284.58,108.13 287.93,107.21 291.28,106.68 294.63,106.54 297.97,106.76 301.32,107.32 304.67,108.22 308.01,109.44 311.36,110.99 314.71,112.85 318.06,115.01 321.40,117.48 324.75,120.22 328.10,123.25 331.45,126.53 334.79,130.07 338.14,133.85 341.49,137.86 344.84,142.08 348.18,146.50 351.53,151.11 354.88,155.90 358.23,160.84 361.57,165.94 364.92,171.17 368.27,176.52 371.62,181.98 374.96,187.53 378.31,193.16 381.66,198.87 385.01,204.63 388.35,210.43 391.70,216.27 395.05,222.13 398.40,228.00 401.74,233.87 405.09,239.73 408.44,245.57 411.79,251.38 415.13,257.16 418.48,262.88 421.83,268.56 425.17,274.17 428.52,279.72 431.87,285.19 435.22,290.58 438.56,295.89 441.91,301.11 445.26,306.23 448.61,311.25 451.95,316.18 455.30,320.99 458.65,325.70 462.00,330.30 465.34,334.79 468.69,339.17 472.04,343.43 475.39,347.57 478.73,351.60 482.08,355.51 485.43,359.30 488.78,362.98 492.12,366.55 495.47,369.99 498.82,373.33 502.17,376.55 505.51,379.66 508.86,382.66 512.21,385.56 515.56,388.34 518.90,391.03 522.25,393.61 525.60,396.09 528.95,398.47 532.29,400.75 535.64,402.95 538.99,405.05 542.33,407.06 545.68,408.99 549.03,410.84 552.38,412.60 555.72,414.29 559.07,415.90 562.42,417.43 565.77,418.90 569.11,420.29 572.46,421.62 575.81,422.89 579.16,424.10 582.50,425.25 585.85,426.34 589.20,427.37 592.55,428.36 595.89,429.29 599.24,430.18 602.59,431.02 605.94,431.81 609.28,432.57 612.63,433.28 615.98,433.96 619.33,434.60 622.67,435.20 626.02,435.78 629.37,436.32 632.72,436.83 636.06,437.31 639.41,437.76 642.76,438.19 646.11,438.59 649.45,438.97 652.80,439.33"/>
<polyline stroke="#06001e" points="67.00,418.95 70.35,419.17 73.69,419.09 77.04,418.72 80.39,418.07 83.74,417.13 87.08,415.93 90.43,414.47 93.78,412.73 97.13,410.74 100.47,408.49 103.82,405.98 107.17,403.21 110.52,400.19 113.86,396.90 117.21,393.36 120.56,389.57 123.91,385.51 127.25,381.20 130.60,376.64 133.95,371.83 137.30,366.78 140.64,361.48 143.99,355.94 147.34,350.18 150.69,344.19 154.03,337.99 157.38,331.58 160.73,324.98 164.08,318.20 167.42,311.24 170.77,304.13 174.12,296.88 177.47,289.51 180.81,282.02 184.16,274.45 187.51,266.80 190.85,259.11 194.20,251.38 197.55,243.64 200.90,235.91 204.24,228.21 207.59,220.57 210.94,213.00 214.29,205.54 217.63,198.19 220.98,190.98 224.33,183.94 227.68,177.08 231.02,170.43 234.37,164.01 237.72,157.83 241.07,151.91 244.41,146.28 247.76,140.94 251.11,135.91 254.46,131.22 257.80,126.86 261.15,122.86 264.50,119.22 267.85,115.95 271.19,113.06 274.54,110.55 277.89,108.44 281.24,106.72 284.58,105.39 287.93,104.46 291.28,103.93 294.63,103.79 297.97,104.01 301.32,104.58 304.67,105.48 308.01,106.71 311.36,108.27 314.71,110.15 318.06,112.33 321.40,114.81 324.75,117.58 328.10,120.63 331.45,123.94 334.79,127.51 338.14,131.32 341.49,135.36 344.84,139.61 348.18,144.07 351.53,148.72 354.88,153.54 358.23,158.53 361.57,163.67 364.92,168.94 368.27,174.33 371.62,179.83 374.96,185.43 378.31,191.11 381.66,196.86 385.01,202.67 388.35,208.52 391.70,214.40 395.05,220.31 398.40,226.23 401.74,232.15 405.09,238.05 408.44,243.94 411.79,249.80 415.13,255.62 418.48,261.39 421.83,267.11 425.17,272.77 428.52,278.36 431.87,283.88 435.22,289.31 438.56,294.66 441.91,299.92 445.26,305.09 448.61,310.15 451.95,315.12 455.30,319.97 458.65,324.72 462.00,329.36 465.34,333.88 468.69,338.29 472.04,342.58 475.39,346.76 478.73,350.82 482.08,354.76 485.43,358.59 488.78,362.30 492.12,365.89 495.47,369.37 498.82,372.73 502.17,375.98 505.51,379.11 508.86,382.14 512.21,385.05 515.56,387.86 518.90,390.57 522.25,393.17 525.60,395.67 528.95,398.07 532.29,400.37 535.64,402.59 538.99,404.70 542.33,406.74 545.68,408.68 549.03,410.54 552.38,412.32 555.72,414.02 559.07,415.64 562.42,417.19 565.77,418.66 569.11,420.07 572.46,421.41 575.81,422.69 579.16,423.91 582.50,425.06 585.85,426.16 589.20,427.21 592.55,428.20 595.89,429.14 599.24,430.04 602.59,430.88 605.94,431.69 609.28,432.45 612.63,433.17 615.98,433.85 619.33,434.49 622.67,435.10 626.02,435.68 629.37,436.22 632.72,436.74 636.06,437.22 639.41,437.68 642.76,438.11 646.11,438.52 649.45,438.90 652.80,439.26"/>
</g>
<rect x="67.0" y="12.7" width="585.80" height="435.10" fill="none" stroke="#000" stroke-width="3"/>
<path d="M57.2 447.80H67.0 M57.2 360.78H67.0 M57.2 273.76H67.0 M57.2 186.74H67.0 M57.2 99.72H67.0 M57.2 12.70H67.0 M61.6 404.29H67.0 M61.6 317.27H67.0 M61.6 230.25H67.0 M61.6 143.23H67.0 M61.6 56.21H67.0 M67.00 447.8V457 M150.69 447.8V457 M234.37 447.8V457 M318.06 447.8V457 M401.74 447.8V457 M485.43 447.8V457 M569.11 447.8V457 M652.80 447.8V457 M108.84 447.8V452.5 M192.53 447.8V452.5 M276.21 447.8V452.5 M359.90 447.8V452.5 M443.59 447.8V452.5 M527.27 447.8V452.5 M610.96 447.8V452.5" stroke="#000" stroke-width="3" fill="none"/>
<text transform="translate(40.00,455.05) scale(1.0000,1.0000)" font-size="25" font-weight="bold" fill="#000">0</text>
<text transform="translate(40.25,368.03) scale(1.0000,1.0000)" font-size="25" font-weight="bold" fill="#000">1</text>
<text transform="translate(40.12,281.01) scale(1.0000,1.0000)" font-size="25" font-weight="bold" fill="#000">2</text>
<text transform="translate(39.88,193.99) scale(1.0000,1.0000)" font-size="25" font-weight="bold" fill="#000">3</text>
<text transform="translate(39.50,106.97) scale(1.0000,1.0000)" font-size="25" font-weight="bold" fill="#000">4</text>
<text transform="translate(39.88,19.95) scale(1.0000,1.0000)" font-size="25" font-weight="bold" fill="#000">5</text>
<text transform="translate(47.50,482.30) scale(1.0000,1.0000)" font-size="26" font-weight="bold" fill="#000">500</text>
<text transform="translate(131.12,482.30) scale(1.0000,1.0000)" font-size="26" font-weight="bold" fill="#000">525</text>
<text transform="translate(214.87,482.30) scale(1.0000,1.0000)" font-size="26" font-weight="bold" fill="#000">550</text>
<text transform="translate(298.49,482.30) scale(1.0000,1.0000)" font-size="26" font-weight="bold" fill="#000">575</text>
<text transform="translate(382.31,482.30) scale(1.0000,1.0000)" font-size="26" font-weight="bold" fill="#000">600</text>
<text transform="translate(465.93,482.30) scale(1.0000,1.0000)" font-size="26" font-weight="bold" fill="#000">625</text>
<text transform="translate(549.68,482.30) scale(1.0000,1.0000)" font-size="26" font-weight="bold" fill="#000">650</text>
<text transform="translate(633.30,482.30) scale(1.0000,1.0000)" font-size="26" font-weight="bold" fill="#000">675</text>
<text transform="translate(79.14,51.50) scale(1.0490,1.0000)" font-size="33" font-weight="bold" fill="#000">(A)</text>
<text transform="translate(503.73,90.60) scale(1.0146,1.0000)" font-size="25.5" font-weight="bold" fill="#000">1pM</text>
<text transform="translate(504.28,275.50) scale(1.0003,1.0000)" font-size="25.6" font-weight="bold" fill="#000">50mM</text>
<text transform="translate(239.09,532.80) scale(1.0189,1.0000)" font-size="33.5" font-weight="bold" fill="#000">Wavelength(nm)</text>
<path d="M532.3 100.6V232" stroke="#000" stroke-width="3" fill="none"/>
<path d="M527 229.5L537.6 229.5L532.3 248.5Z" fill="#000"/>
<text transform="translate(31.90,401.87) rotate(-90) scale(0.9909,1.0000)" font-size="31.5" font-weight="bold">FL Intensity (a.u.)×10</text>
<text transform="translate(15.60,112.32) rotate(-90) scale(1.0235,1.0000)" font-size="20" font-weight="bold">3</text>
<path d="M119.5 960.1V981.0M114.6 960.1H124.4M114.6 981.0H124.4M139.4 967.2V984.6M134.5 967.2H144.3M134.5 984.6H144.3M154.2 958.9V975.8M149.3 958.9H159.1M149.3 975.8H159.1M169.0 961.6V982.2M164.1 961.6H173.9M164.1 982.2H173.9M203.0 960.0V980.8M198.1 960.0H207.9M198.1 980.8H207.9M252.2 900.0V916.9M247.3 900.0H257.1M247.3 916.9H257.1M301.7 883.1V900.0M296.8 883.1H306.6M296.8 900.0H306.6M350.9 835.7V853.5M346.0 835.7H355.8M346.0 853.5H355.8M400.4 800.7V820.6M395.5 800.7H405.3M395.5 820.6H405.3M449.5 750.9V776.2M444.6 750.9H454.4M444.6 776.2H454.4M498.9 721.8V749.5M494.0 721.8H503.8M494.0 749.5H503.8M548.0 693.3V723.6M543.1 693.3H552.9M543.1 723.6H552.9M597.0 671.0V703.6M592.1 671.0H601.9M592.1 703.6H601.9M632.3 675.6V695.1M627.4 675.6H637.2M627.4 695.1H637.2M646.5 675.6V693.3M641.6 675.6H651.4M641.6 693.3H651.4" stroke="#000" stroke-width="2" fill="none"/>
<g fill="#000"><rect x="115.2" y="965.9" width="8.6" height="8"/><rect x="135.1" y="971.4" width="8.6" height="8"/><rect x="149.9" y="963.2" width="8.6" height="8"/><rect x="164.7" y="968.0" width="8.6" height="8"/><rect x="198.7" y="966.1" width="8.6" height="8"/><rect x="247.9" y="904.3" width="8.6" height="8"/><rect x="297.4" y="887.1" width="8.6" height="8"/><rect x="346.6" y="839.7" width="8.6" height="8"/><rect x="396.1" y="805.6" width="8.6" height="8"/><rect x="445.2" y="759.7" width="8.6" height="8"/><rect x="494.6" y="731.3" width="8.6" height="8"/><rect x="543.7" y="703.6" width="8.6" height="8"/><rect x="592.7" y="683.0" width="8.6" height="8"/><rect x="628.0" y="681.2" width="8.6" height="8"/><rect x="642.2" y="680.4" width="8.6" height="8"/></g>
<line x1="203.00" y1="955.81" x2="597.56" y2="668.14" stroke="#d00c14" stroke-width="2.9" stroke-linecap="round"/>
<rect x="95.1" y="595.7" width="561.20" height="416.30" fill="none" stroke="#000" stroke-width="3"/>
<path d="M86.3 1012.00H95.1 M86.3 928.76H95.1 M86.3 845.52H95.1 M86.3 762.28H95.1 M86.3 679.04H95.1 M86.3 595.80H95.1 M90.5 970.38H95.1 M90.5 887.14H95.1 M90.5 803.90H95.1 M90.5 720.66H95.1 M90.5 637.42H95.1 M104.36 1012.0V1020.9 M153.68 1012.0V1020.9 M203.00 1012.0V1020.9 M252.32 1012.0V1020.9 M301.64 1012.0V1020.9 M350.96 1012.0V1020.9 M400.28 1012.0V1020.9 M449.60 1012.0V1020.9 M498.92 1012.0V1020.9 M548.24 1012.0V1020.9 M597.56 1012.0V1020.9 M646.88 1012.0V1020.9 M129.02 1012.0V1017 M178.34 1012.0V1017 M227.66 1012.0V1017 M276.98 1012.0V1017 M326.30 1012.0V1017 M375.62 1012.0V1017 M424.94 1012.0V1017 M474.26 1012.0V1017 M523.58 1012.0V1017 M572.90 1012.0V1017 M622.22 1012.0V1017" stroke="#000" stroke-width="3" fill="none"/>
<text transform="translate(71.60,1018.50) scale(1.0000,1.0000)" font-size="20" font-weight="bold" fill="#000">0</text>
<text transform="translate(71.80,935.26) scale(1.0000,1.0000)" font-size="20" font-weight="bold" fill="#000">1</text>
<text transform="translate(71.70,852.02) scale(1.0000,1.0000)" font-size="20" font-weight="bold" fill="#000">2</text>
<text transform="translate(71.50,768.78) scale(1.0000,1.0000)" font-size="20" font-weight="bold" fill="#000">3</text>
<text transform="translate(71.20,685.54) scale(1.0000,1.0000)" font-size="20" font-weight="bold" fill="#000">4</text>
<text transform="translate(71.50,602.30) scale(1.0000,1.0000)" font-size="20" font-weight="bold" fill="#000">5</text>
<text transform="translate(94.46,1045.00) scale(1.0000,1.0000)" font-size="24" font-weight="bold" fill="#000">-2</text>
<text transform="translate(143.84,1045.00) scale(1.0000,1.0000)" font-size="24" font-weight="bold" fill="#000">-1</text>
<text transform="translate(197.00,1045.00) scale(1.0000,1.0000)" font-size="24" font-weight="bold" fill="#000">0</text>
<text transform="translate(245.96,1045.00) scale(1.0000,1.0000)" font-size="24" font-weight="bold" fill="#000">1</text>
<text transform="translate(295.70,1045.00) scale(1.0000,1.0000)" font-size="24" font-weight="bold" fill="#000">2</text>
<text transform="translate(344.90,1045.00) scale(1.0000,1.0000)" font-size="24" font-weight="bold" fill="#000">3</text>
<text transform="translate(394.34,1045.00) scale(1.0000,1.0000)" font-size="24" font-weight="bold" fill="#000">4</text>
<text transform="translate(443.54,1045.00) scale(1.0000,1.0000)" font-size="24" font-weight="bold" fill="#000">5</text>
<text transform="translate(492.86,1045.00) scale(1.0000,1.0000)" font-size="24" font-weight="bold" fill="#000">6</text>
<text transform="translate(541.88,1045.00) scale(1.0000,1.0000)" font-size="24" font-weight="bold" fill="#000">7</text>
<text transform="translate(591.56,1045.00) scale(1.0000,1.0000)" font-size="24" font-weight="bold" fill="#000">8</text>
<text transform="translate(641.00,1045.00) scale(1.0000,1.0000)" font-size="24" font-weight="bold" fill="#000">9</text>
<text transform="translate(107.93,631.90) scale(1.0241,1.0000)" font-size="32" font-weight="bold" fill="#000">(B)</text>
<text transform="translate(248.65,664.60) scale(1.0189,1.0000)" font-size="24.5" font-weight="bold" fill="#000">y=-0.432 lg[S</text>
<text transform="translate(386.98,650.80) scale(1.0636,1.0000)" font-size="14.5" font-weight="bold" fill="#000">2</text>
<rect x="395.2" y="646.2" width="6.6" height="2.1" fill="#000"/>
<text transform="translate(404.07,664.60) scale(0.9873,1.0000)" font-size="24" font-weight="bold" fill="#000">]+0.675</text>
<text transform="translate(248.54,709.80) scale(0.9762,1.0000)" font-size="24.5" font-weight="bold" fill="#000">R</text>
<text transform="translate(266.65,696.00) scale(0.9811,1.0000)" font-size="14" font-weight="bold" fill="#000">2</text>
<text transform="translate(273.06,709.80) scale(1.0308,1.0000)" font-size="24" font-weight="bold" fill="#000">=0.9844</text>
<text transform="translate(276.92,1092.50) scale(1.0503,1.0000)" font-size="32" font-weight="bold" fill="#000">-lg[S</text>
<text transform="translate(344.76,1074.70) scale(0.7917,1.0000)" font-size="18" font-weight="normal" fill="#000">2</text>
<path d="M354.2 1067.4H363.6" stroke="#000" stroke-width="2.6"/>
<text transform="translate(366.55,1092.50) scale(1.0243,1.0000)" font-size="32" font-weight="bold" fill="#000">](mM)</text>
<text transform="translate(35.40,984.39) rotate(-90) scale(0.9776,1.0000)" font-size="33.5" font-weight="bold">FL Intensity (a.u.)×10</text>
<text transform="translate(16.80,679.81) rotate(-90) scale(1.0118,1.0000)" font-size="20" font-weight="bold">3</text>
</svg>
</body></html>
